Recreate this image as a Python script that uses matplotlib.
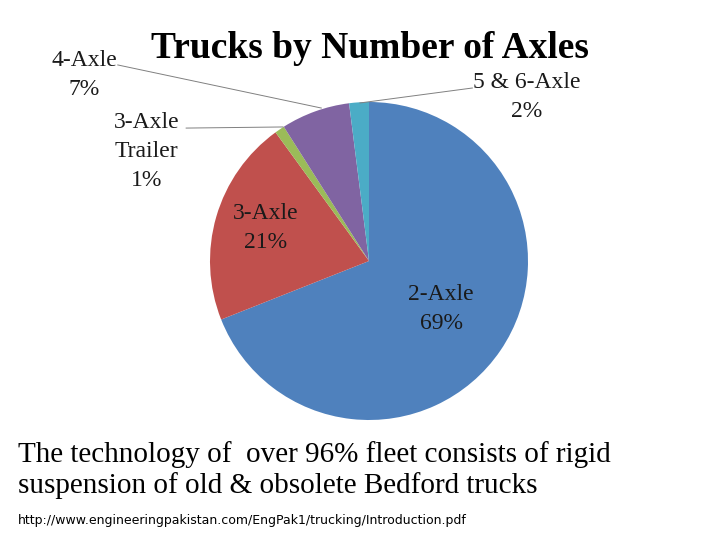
import matplotlib
matplotlib.use("Agg")
import matplotlib.pyplot as plt

# slice data, clockwise from 12 o'clock
labels = ["2-Axle", "3-Axle", "3-Axle\nTrailer", "4-Axle", "5 & 6-Axle"]
shares = [69, 21, 1, 7, 2]
colors = ["#4F81BD", "#C0504D", "#9BBB59", "#8064A2", "#4BACC6"]

title = "Trucks by Number of Axles"
caption = ["The technology of  over 96% fleet consists of rigid",
           "suspension of old & obsolete Bedford trucks"]
source = "http://www.engineeringpakistan.com/EngPak1/trucking/Introduction.pdf"

serif = ["Liberation Serif", "DejaVu Serif"]

fig = plt.figure(figsize=(7.2, 5.4), dpi=100)
fig.patch.set_facecolor("white")

# pie centre ~ (369, 261) px, radius ~159 px
ax = fig.add_axes([210 / 720, 120 / 540, 318 / 720, 318 / 540])
wedges, _ = ax.pie(shares, colors=colors, startangle=90, counterclock=False,
                   radius=1.0, wedgeprops=dict(linewidth=0))
ax.set_xlim(-1, 1)
ax.set_ylim(-1, 1)
ax.set_aspect("equal")
ax.axis("off")

# label positions (data units), inside or outside
label_pos = [(0.453, -0.30), (-0.648, 0.21), (-1.40, 0.69), (-1.79, 1.17), (0.99, 1.03)]
# leader lines: (text end, slice end), None for inside labels
leaders = [None, None,
           ((-1.15, 0.836), (-0.541, 0.843)),
           ((-1.58, 1.233), (-0.30, 0.962)),
           ((0.65, 1.088), (-0.057, 0.994))]

for lab, val, (x, y), ld in zip(labels, shares, label_pos, leaders):
    ax.text(x, y, f"{lab}\n{val}%", ha="center", va="center", fontsize=17,
            family=serif, color="#1a1a1a", linespacing=1.5, clip_on=False)
    if ld is not None:
        (x0, y0), (x1, y1) = ld
        ax.plot([x0, x1], [y0, y1], color="#808080", linewidth=0.7, clip_on=False)

fig.text(370 / 720, 1 - 58 / 540, title, ha="center", va="baseline",
         fontsize=27, fontweight="bold", family=serif)

fig.text(18 / 720, 1 - 462 / 540, caption[0], ha="left", va="baseline",
         fontsize=21, family=serif)
fig.text(18 / 720, 1 - 493 / 540, caption[1], ha="left", va="baseline",
         fontsize=21, family=serif)
fig.text(18 / 720, 1 - 524 / 540, source, ha="left", va="baseline",
         fontsize=9, family=["Liberation Sans Narrow", "DejaVu Sans"])

fig.savefig("out.png", dpi=100, facecolor="white")
